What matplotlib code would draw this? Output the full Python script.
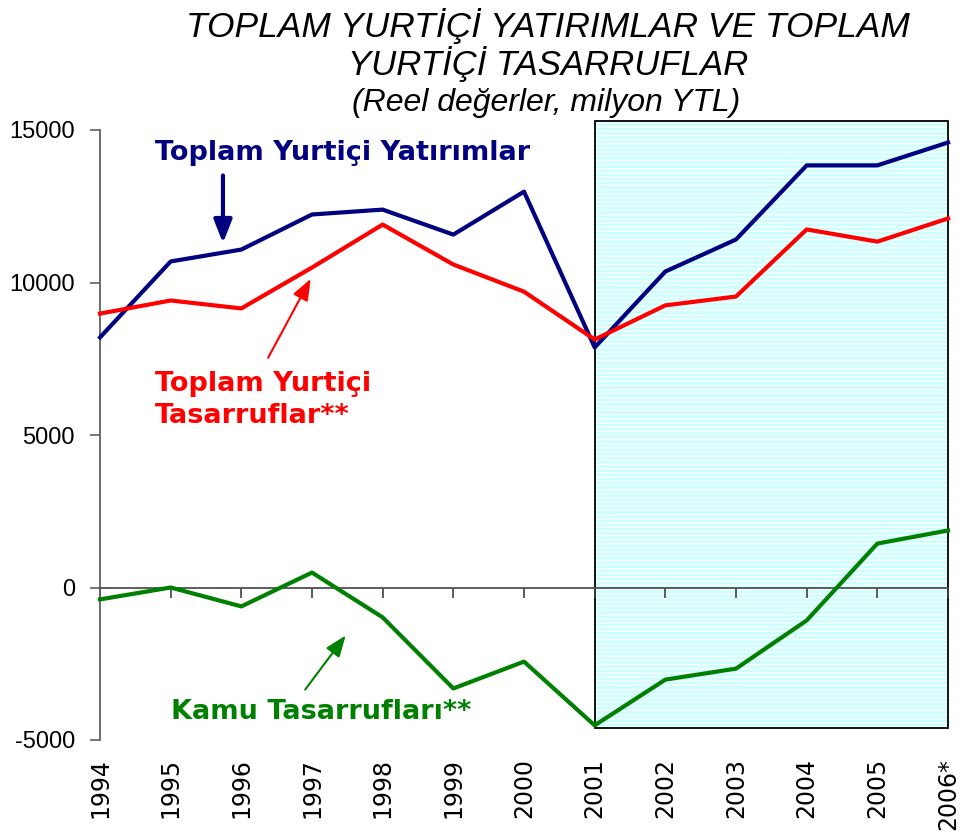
import matplotlib
matplotlib.use("Agg")
import matplotlib.pyplot as plt
from matplotlib.patches import Rectangle
import numpy as np

years = ["1994", "1995", "1996", "1997", "1998", "1999", "2000",
         "2001", "2002", "2003", "2004", "2005", "2006*"]
yatirimlar = [8200, 10690, 11080, 12230, 12390, 11570, 12980,
              7870, 10360, 11410, 13840, 13840, 14590]
tasarruflar = [8980, 9410, 9150, 10490, 11900, 10590, 9700,
               8130, 9250, 9540, 11740, 11340, 12100]
kamu = [-390, 0, -620, 490, -980, -3310, -2430,
        -4520, -3020, -2660, -1080, 1440, 1870]
yticks = [-5000, 0, 5000, 10000, 15000]

NAVY = "#000080"
RED = "#ff0000"
GREEN = "#008000"

plt.rcParams['hatch.linewidth'] = 1.0

fig = plt.figure(figsize=(9.68, 8.36), dpi=100)
ax = fig.add_axes([100/968, 96/836, 848/968, 610/836])
x = np.arange(len(years))

# shaded forecast region
shade_start, shade_end = 7, 12
rect = Rectangle((shade_start, -4620), shade_end - shade_start, 15280 + 4620,
                 facecolor="#ccffff", edgecolor="white", hatch="----",
                 linewidth=0, clip_on=False, zorder=0)
ax.add_patch(rect)
border = Rectangle((shade_start, -4620), shade_end - shade_start, 15280 + 4620,
                   facecolor="none", edgecolor="black", linewidth=1.3,
                   clip_on=False, zorder=1)
ax.add_patch(border)

ax.plot(x, yatirimlar, color=NAVY, lw=3, zorder=3, clip_on=False)
ax.plot(x, tasarruflar, color=RED, lw=3, zorder=3, clip_on=False)
ax.plot(x, kamu, color=GREEN, lw=3, zorder=3, clip_on=False)

ax.set_xlim(0, 12)
ax.set_ylim(-5000, 15000)

for s in ["top", "right"]:
    ax.spines[s].set_visible(False)
ax.spines["left"].set_color("#606060")
ax.spines["left"].set_linewidth(1.3)
ax.spines["bottom"].set_position(("data", 0))
ax.spines["bottom"].set_color("#505050")
ax.spines["bottom"].set_linewidth(1.3)

ax.set_yticks(yticks)
ax.set_yticklabels([str(v) for v in yticks], family="Liberation Sans", fontsize=17)
ax.tick_params(axis="y", direction="out", length=7, width=1.2, color="#606060", pad=11)
ax.set_xticks(x)
ax.tick_params(axis="x", direction="out", length=7, width=1.2, color="#404040",
               labelbottom=False)

sec = ax.secondary_xaxis(0.0)
sec.set_xticks(x)
sec.set_xticklabels(years, rotation=90, fontsize=17, family="DejaVu Sans")
sec.tick_params(length=0, pad=13)
sec.spines["bottom"].set_visible(False)

# Title
tfont = dict(style="italic", family="Liberation Sans", ha="center", va="center")
fig.text(548/968, 1 - 26/836, "TOPLAM YURTİÇİ YATIRIMLAR VE TOPLAM", fontsize=25.5, **tfont)
fig.text(548/968, 1 - 64/836, "YURTİÇİ TASARRUFLAR", fontsize=25, **tfont)
fig.text(546/968, 1 - 103/836, "(Reel değerler, milyon YTL)", fontsize=23, **tfont)

# Annotations
afont = dict(fontsize=19.5, fontweight="bold", ha="left", va="center")
ax.text(0.78, 14250, "Toplam Yurtiçi Yatırımlar", color=NAVY, **afont)
ax.annotate("", xy=(1.74, 11200), xytext=(1.74, 13600),
            arrowprops=dict(arrowstyle="-|>,head_width=0.55,head_length=1.4",
                            color=NAVY, lw=3))
ax.text(0.78, 6150, "Toplam Yurtiçi\nTasarruflar**", color=RED,
        linespacing=1.3, **afont)
ax.annotate("", xy=(3.0, 10200), xytext=(2.36, 7450),
            arrowprops=dict(arrowstyle="-|>,head_width=0.5,head_length=1.3",
                            color=RED, lw=1.5))
ax.text(1.01, -4080, "Kamu Tasarrufları**", color=GREEN, **afont)
ax.annotate("", xy=(3.5, -1500), xytext=(2.88, -3420),
            arrowprops=dict(arrowstyle="-|>,head_width=0.5,head_length=1.3",
                            color=GREEN, lw=1.5))

fig.savefig("out.png", dpi=100)
